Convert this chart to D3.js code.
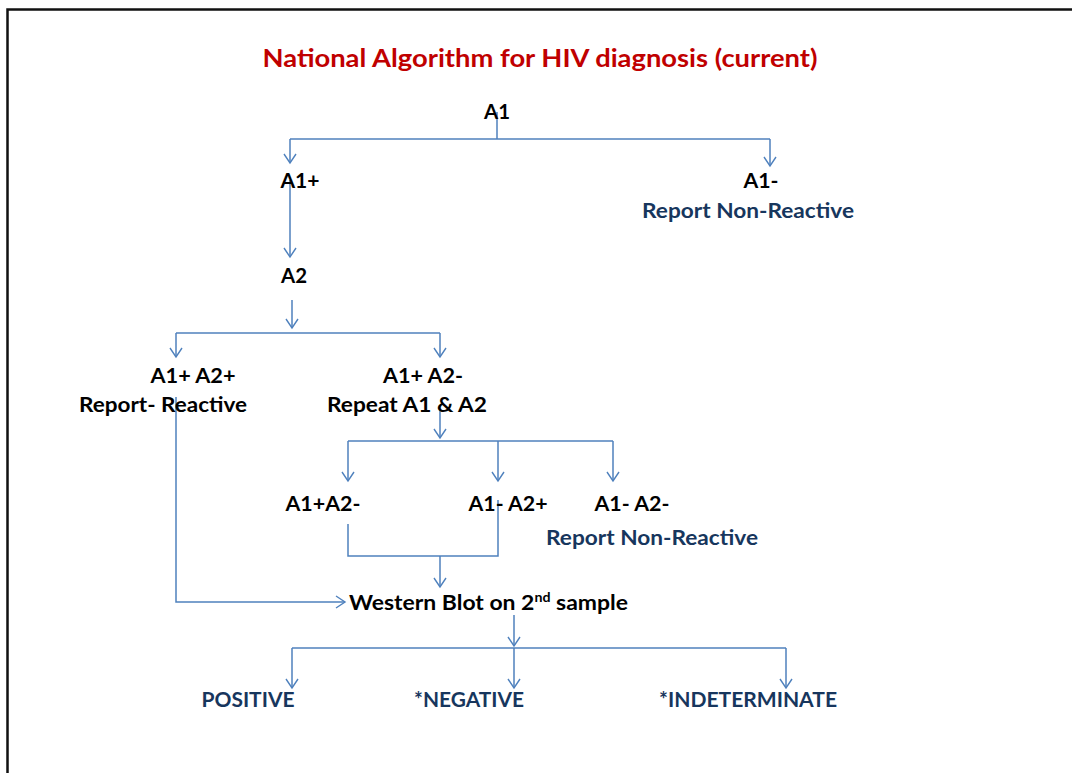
<!DOCTYPE html>
<html>
<head>
<meta charset="utf-8">
<script src="https://cdn.jsdelivr.net/npm/d3@7"></script>
<style>
  body { margin: 0; background: #fff; }
  svg { display: block; }
</style>
</head>
<body>
<script>
// texts of the flowchart
var title = "National Algorithm for HIV diagnosis (current)";
var labels = ["A1", "A1+", "A1-", "Report Non-Reactive", "A2", "A1+ A2+", "Report- Reactive",
              "A1+ A2-", "Repeat A1 & A2", "A1+A2-", "A1- A2+", "A1- A2-", "Report Non-Reactive",
              "Western Blot on 2", "POSITIVE", "*NEGATIVE", "*INDETERMINATE"];
var kinds = ["step", "step", "step", "report", "step", "step", "step",
             "step", "step", "step", "step", "step", "report",
             "step", "report", "report", "report"];

// layout (pixel positions of label centres / baselines)
var labelX = [497, 300, 761, 748, 294, 193, 163, 423, 407, 323, 508, 632, 652, 489, 248, 469, 748];
var labelY = [119, 188, 188, 218, 283, 383, 412, 383, 412, 511, 511, 511, 545, 610, 707, 707, 707];
var labelW = [26, 39, 35, 212, 26, 85, 168, 80, 160, 75, 79, 75, 212, 279, 93, 110, 178];

// connectors: polylines, last flag = arrowhead at end
var links = [
  [[[497,112],[497,139]], false],
  [[[290,139],[770,139]], false],
  [[[290,139],[290,163]], true],
  [[[770,139],[770,166]], true],
  [[[290,180],[290,257]], true],
  [[[292,300],[292,328]], true],
  [[[176,333],[440,333]], false],
  [[[176,333],[176,357]], true],
  [[[440,333],[440,357]], true],
  [[[176,397],[176,602],[345,602]], true],
  [[[440,410],[440,438]], true],
  [[[348,441],[613,441]], false],
  [[[348,441],[348,481]], true],
  [[[498,441],[498,481]], true],
  [[[613,441],[613,481]], true],
  [[[348,524],[348,556],[498,556],[498,500]], false],
  [[[440,556],[440,587]], true],
  [[[514,615],[514,646]], true],
  [[[292,648],[786,648]], false],
  [[[292,648],[292,688]], true],
  [[[514,648],[514,688]], true],
  [[[786,648],[786,688]], true]
];

var width = 1072, height = 773;
var lineColor = "#4f81bd";

var svg = d3.select("body").append("svg")
    .attr("width", width)
    .attr("height", height);

svg.append("rect").attr("width", width).attr("height", height).attr("fill", "#fff");

// slide frame
svg.append("path")
    .attr("d", "M7.5,773 V9.5 H1072")
    .attr("fill", "none")
    .attr("stroke", "#111")
    .attr("stroke-width", 2.5);

// open arrowhead, drawn along +x so orient=auto turns it
svg.append("defs").append("marker")
    .attr("id", "arrow")
    .attr("markerUnits", "userSpaceOnUse")
    .attr("viewBox", "-10 -7 12 14")
    .attr("refX", 0).attr("refY", 0)
    .attr("markerWidth", 12).attr("markerHeight", 14)
    .attr("orient", "auto")
  .append("path")
    .attr("d", "M-9,-6 L0,0 L-9,6")
    .attr("fill", "none")
    .attr("stroke", lineColor)
    .attr("stroke-width", 1.4);

var line = d3.line();

svg.selectAll(".link")
    .data(links)
  .enter().append("path")
    .attr("class", "link")
    .attr("d", function(d) { return line(d[0]); })
    .attr("fill", "none")
    .attr("stroke", lineColor)
    .attr("stroke-width", 1.5)
    .attr("marker-end", function(d) { return d[1] ? "url(#arrow)" : null; });

// title
svg.append("text")
    .attr("x", 540)
    .attr("y", 67)
    .attr("text-anchor", "middle")
    .attr("font-family", "Lato, 'Open Sans', sans-serif")
    .attr("font-weight", "bold")
    .attr("font-size", 25)
    .attr("fill", "#c00000")
    .attr("textLength", 555)
    .attr("lengthAdjust", "spacingAndGlyphs")
    .text(title);

var txt = svg.selectAll(".label")
    .data(labels)
  .enter().append("text")
    .attr("class", "label")
    .attr("x", function(d, i) { return labelX[i]; })
    .attr("y", function(d, i) { return labelY[i]; })
    .attr("text-anchor", "middle")
    .attr("font-family", "Lato, 'Open Sans', sans-serif")
    .attr("font-weight", "bold")
    .attr("font-size", 20)
    .attr("fill", function(d, i) { return kinds[i] == "report" ? "#17365d" : "#000"; })
    .attr("textLength", function(d, i) { return labelW[i]; })
    .attr("lengthAdjust", "spacingAndGlyphs")
    .text(function(d) { return d; });

// superscript + rest for the western blot label
var wb = txt.filter(function(d, i) { return i == 13; })
    .attr("text-anchor", "start")
    .attr("x", 349)
    .attr("font-size", 21);
wb.append("tspan").attr("dy", -8).attr("font-size", 13).text("nd");
wb.append("tspan").attr("dy", 8).text(" sample");
</script>
</body>
</html>
